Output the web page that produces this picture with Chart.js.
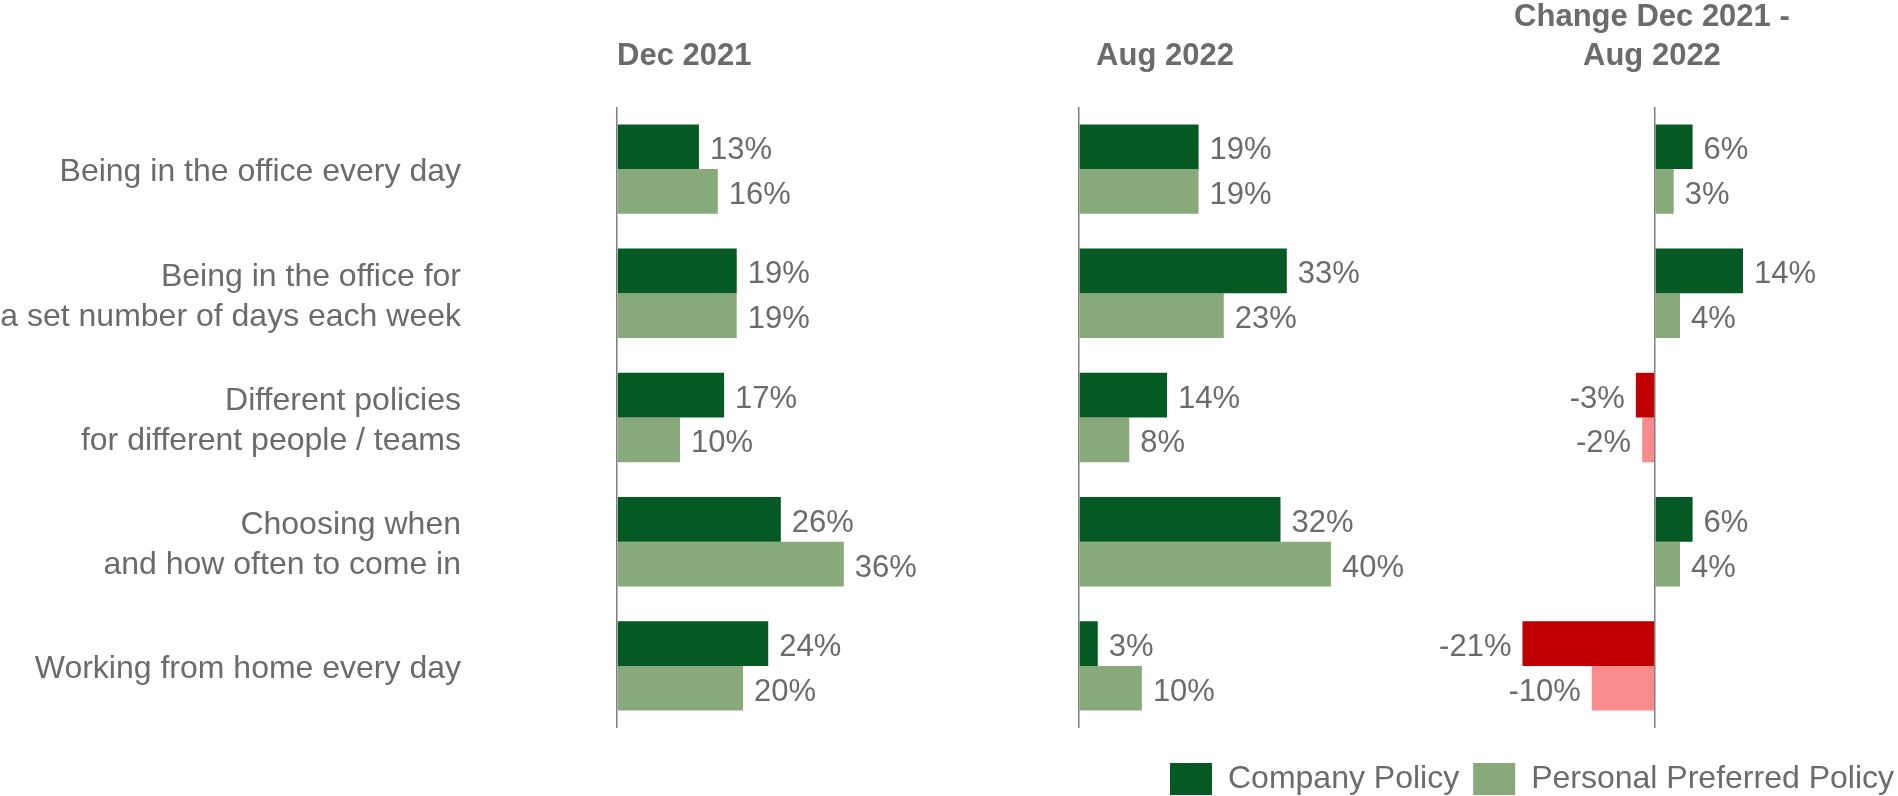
<!DOCTYPE html>
<html>
<head>
<meta charset="utf-8">
<script src="https://cdn.jsdelivr.net/npm/chart.js@4.4.1/dist/chart.umd.min.js"></script>
<style>
  html, body { margin: 0; padding: 0; background: #fff; overflow: hidden; }
  #wrap { width: 1898px; height: 796px; position: relative; }
</style>
</head>
<body>
<div id="wrap"><canvas id="myChart"></canvas></div>
<script>
const categories = [
    'Being in the office every day',
    ['Being in the office for', 'a set number of days each week'],
    ['Different policies', 'for different people / teams'],
    ['Choosing when', 'and how often to come in'],
    'Working from home every day'
];
const seriesNames = ['Company Policy', 'Personal Preferred Policy'];
const panelTitles = [['', 'Dec 2021'], ['', '  Aug 2022'], ['Change Dec 2021 -', 'Aug 2022']];

const dec2021Company = [13, 19, 17, 26, 24];
const dec2021Personal = [16, 19, 10, 36, 20];
const aug2022Company = [19, 33, 14, 32, 3];
const aug2022Personal = [19, 23, 8, 40, 10];
const changeCompany = [6, 14, -3, 6, -21];
const changePersonal = [3, 4, -2, 4, -10];

const darkGreen = '#055a24';
const lightGreen = '#88a97a';
const red = '#c00000';
const pink = '#f88b8b';
const textGray = '#6b6b6b';
const lineGray = '#7f7f7f';
const family = '"Liberation Sans", Arial, Helvetica, sans-serif';

// value labels at the end of every bar
const valueLabels = {
    id: 'valueLabels',
    afterDatasetsDraw(chart) {
        const c = chart.ctx;
        c.save();
        c.font = '31px ' + family;
        c.fillStyle = textGray;
        c.textBaseline = 'middle';
        chart.data.datasets.forEach((ds, i) => {
            const meta = chart.getDatasetMeta(i);
            if (meta.hidden) return;
            meta.data.forEach((bar, j) => {
                const v = ds.data[j];
                const neg = v < 0;
                c.textAlign = neg ? 'right' : 'left';
                c.fillText(v + '%', bar.x + (neg ? -11 : 11), bar.y + 4);
            });
        });
        c.restore();
    }
};

// one top axis per panel, stacked side by side
function panelAxis(title, min, max, align, weight) {
    return {
        type: 'linear',
        position: 'top',
        stack: 'panels',
        stackWeight: max - min,
        weight: weight,
        min: min,
        max: max,
        stacked: false,
        afterBuildTicks: s => { s.ticks = [{ value: 0 }]; },
        afterFit: s => { s.height = 107; },
        ticks: { display: false },
        grid: { drawTicks: false, color: lineGray, lineWidth: 1.5, z: 1 },
        border: { display: false },
        title: {
            display: true,
            text: title,
            align: align,
            color: textGray,
            font: { size: 31, weight: 'bold', family: family, lineHeight: 1.25 },
            padding: { top: -2, bottom: 0 }
        }
    };
}

const ctx = document.querySelector('#myChart').getContext('2d');
const myChart = new Chart(ctx, {
    type: 'bar',
    data: {
        labels: categories,
        datasets: [
            { label: seriesNames[0], data: dec2021Company, backgroundColor: darkGreen, xAxisID: 'x1', stack: 'company' },
            { label: seriesNames[1], data: dec2021Personal, backgroundColor: lightGreen, xAxisID: 'x1', stack: 'personal' },
            { label: seriesNames[0], data: aug2022Company, backgroundColor: darkGreen, xAxisID: 'x2', stack: 'company' },
            { label: seriesNames[1], data: aug2022Personal, backgroundColor: lightGreen, xAxisID: 'x2', stack: 'personal' },
            { label: seriesNames[0], data: changeCompany, backgroundColor: changeCompany.map(v => v < 0 ? red : darkGreen), xAxisID: 'x3', stack: 'company' },
            { label: seriesNames[1], data: changePersonal, backgroundColor: changePersonal.map(v => v < 0 ? pink : lightGreen), xAxisID: 'x3', stack: 'personal' }
        ]
    },
    options: {
        indexAxis: 'y',
        responsive: true,
        maintainAspectRatio: false,
        animation: false,
        datasets: {
            bar: { categoryPercentage: 0.72, barPercentage: 1.0, borderWidth: 0 }
        },
        // negative right padding only moves the legend, the chart area stays at the canvas edge
        layout: { padding: { left: 0, top: 0, right: -10, bottom: -9 } },
        plugins: {
            legend: {
                position: 'bottom',
                align: 'end',
                onClick: null,
                labels: {
                    filter: item => item.datasetIndex < 2,
                    boxWidth: 42,
                    boxHeight: 32,
                    padding: 14,
                    color: textGray,
                    font: { size: 32, family: family }
                }
            },
            tooltip: { enabled: true }
        },
        scales: {
            x1: panelAxis(panelTitles[0], 0, 73.3, 'start', 3),
            x2: panelAxis(panelTitles[1], 0, 51.9, 'start', 2),
            x3: panelAxis(panelTitles[2], -39.5, 38.6, 'center', 1),
            xb: {
                type: 'linear',
                position: 'bottom',
                afterFit: s => { s.height = 21; },
                ticks: { display: false },
                grid: { display: false },
                border: { display: false }
            },
            y: {
                type: 'category',
                position: 'left',
                afterFit: s => { s.width = 617; s.paddingTop = 0; s.paddingBottom = 0; },
                ticks: {
                    color: textGray,
                    autoSkip: false,
                    padding: 156,
                    labelOffset: 3.5,
                    font: { size: 32, family: family, lineHeight: 1.25 }
                },
                grid: { display: false, drawTicks: false },
                border: { display: false }
            }
        }
    },
    plugins: [valueLabels]
});
</script>
</body>
</html>
